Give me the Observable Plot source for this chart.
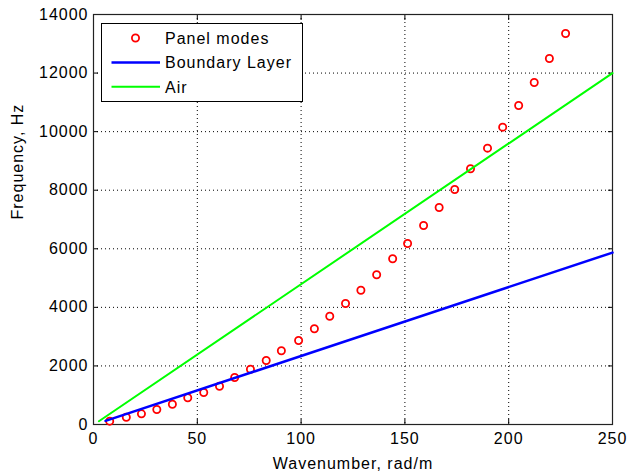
<!DOCTYPE html>
<html>
<head>
<meta charset="utf-8">
<script src="https://cdn.jsdelivr.net/npm/d3@7"></script>
<script src="https://cdn.jsdelivr.net/npm/@observablehq/plot@0.6"></script>
<style>
  html, body { margin: 0; padding: 0; background: #fff; }
  #chart { position: relative; width: 628px; height: 476px; }
</style>
</head>
<body>
<div id="chart"></div>
<script>
// Panel modes (wavenumber rad/m, frequency Hz)
const panelK = [7.8, 15.8, 23.1, 30.5, 38.0, 45.4, 53.1, 60.7, 68.0, 75.6,
                83.2, 90.5, 98.8, 106.4, 113.8, 121.4, 128.8, 136.4, 144.1, 151.3,
                159.0, 166.5, 174.0, 181.6, 189.8, 197.1, 204.8, 212.3, 219.6, 227.4];
const panelF = [113, 249, 365, 512, 693, 912, 1093, 1308, 1605, 1888,
                2186, 2517, 2869, 3268, 3698, 4132, 4586, 5112, 5659, 6181,
                6796, 7411, 8025, 8732, 9436, 10153, 10894, 11679, 12499, 13353];
// Boundary layer line
const blK = [5.8, 250];
const blF = [125, 5870];
// Air line
const airK = [2.6, 250];
const airF = [110, 12000];

const xTicks = [0, 50, 100, 150, 200, 250];
const yTicks = [0, 2000, 4000, 6000, 8000, 10000, 12000, 14000];
const seriesNames = ["Panel modes", "Boundary Layer", "Air"];
const seriesColors = ["#ff0000", "#0000ff", "#00ff00"];
const xLabel = "Wavenumber, rad/m";
const yLabel = "Frequency, Hz";

const panel = panelK.map((k, i) => ({k, f: panelF[i]}));
const bl = blK.map((k, i) => ({k, f: blF[i]}));
const air = airK.map((k, i) => ({k, f: airF[i]}));

const fmt = d => String(d);
const noLabel = () => "";

const plot = Plot.plot({
  width: 628,
  height: 476,
  marginLeft: 93,
  marginRight: 16,
  marginTop: 14,
  marginBottom: 52,
  x: {domain: [0, 250]},
  y: {domain: [0, 14000]},
  style: {
    fontFamily: "'Liberation Sans', Arial, sans-serif",
    fontSize: "16px",
    letterSpacing: "1px",
    background: "white",
    color: "black"
  },
  marks: [
    Plot.gridX(xTicks, {stroke: "#000", strokeOpacity: 1, strokeWidth: 1, strokeDasharray: "1,3"}),
    Plot.gridY(yTicks, {stroke: "#000", strokeOpacity: 1, strokeWidth: 1, strokeDasharray: "1,3"}),
    Plot.axisX({ticks: xTicks, tickSize: 0, tickPadding: 8, tickFormat: fmt, label: null, fontSize: 16}),
    Plot.axisX({ticks: xTicks, tickSize: 5, dy: -5, tickFormat: noLabel, label: null}),
    Plot.axisX({anchor: "top", ticks: xTicks, tickSize: 5, dy: 5, tickFormat: noLabel, label: null}),
    Plot.axisY({ticks: yTicks, tickSize: 0, tickPadding: 5, tickFormat: fmt, label: null, fontSize: 16}),
    Plot.axisY({ticks: yTicks, tickSize: 5, dx: 5, tickFormat: noLabel, label: null}),
    Plot.axisY({anchor: "right", ticks: yTicks, tickSize: 5, dx: -5, tickFormat: noLabel, label: null}),
    Plot.frame({stroke: "#222", strokeWidth: 1.2}),
    Plot.dot(panel, {x: "k", y: "f", r: 3.6, stroke: seriesColors[0], strokeWidth: 1.8, fill: "none"}),
    Plot.line(bl, {x: "k", y: "f", stroke: seriesColors[1], strokeWidth: 2.5}),
    Plot.line(air, {x: "k", y: "f", stroke: seriesColors[2], strokeWidth: 2}),
    Plot.text([xLabel], {text: d => d, frameAnchor: "bottom", dy: 39, lineAnchor: "middle", fontSize: 16}),
    Plot.text([yLabel], {text: d => d, frameAnchor: "left", dx: -75.5, rotate: -90, lineAnchor: "middle", fontSize: 16})
  ]
});

document.getElementById("chart").appendChild(plot);

// Legend box (MATLAB-style, inside the axes at upper left)
const svg = d3.select(plot);
const lg = svg.append("g")
  .attr("font-family", "'Liberation Sans', Arial, sans-serif")
  .attr("font-size", 16)
  .attr("text-anchor", "start")
  .style("letter-spacing", "1px");
lg.append("rect")
  .attr("x", 101.5).attr("y", 23.5).attr("width", 201).attr("height", 78)
  .attr("fill", "white").attr("stroke", "black").attr("stroke-width", 1);
const rowY = [38, 62.4, 86.8];
seriesNames.forEach((name, i) => {
  if (i === 0) {
    lg.append("circle").attr("cx", 135.5).attr("cy", rowY[i]).attr("r", 3.6)
      .attr("fill", "none").attr("stroke", seriesColors[i]).attr("stroke-width", 1.8);
  } else {
    lg.append("line").attr("x1", 111.5).attr("x2", 160).attr("y1", rowY[i]).attr("y2", rowY[i])
      .attr("stroke", seriesColors[i]).attr("stroke-width", i === 1 ? 2.5 : 2);
  }
  lg.append("text").attr("x", 165).attr("y", rowY[i] + 5.8)
    .attr("text-anchor", "start").attr("fill", "black").text(name);
});
</script>
</body>
</html>
